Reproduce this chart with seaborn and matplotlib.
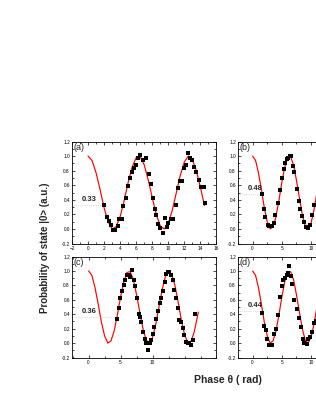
import numpy as np
import pandas as pd
import matplotlib
matplotlib.use("Agg")
import matplotlib.pyplot as plt
from matplotlib.ticker import MultipleLocator, FormatStrFormatter
import seaborn as sns

# basic setting
sns.set_style("ticks")
plt.rcParams['font.family'] = ['Liberation Sans', 'DejaVu Sans']

# ---- data ----
# fitted curves (same shape in every panel)
curve_theta_a = [0.0, 0.5, 1.0, 1.5, 2.0, 2.5, 3.0, 3.5, 4.0, 4.5, 5.0, 5.5, 6.0, 6.5, 7.0,
                 7.5, 8.0, 8.5, 9.0, 9.5, 10.0, 10.5, 11.0, 11.5, 12.0, 12.5, 13.0, 13.5, 14.0, 14.5]
curve_prob_a = [1.00, 0.94, 0.77, 0.54, 0.29, 0.10, 0.00, 0.03, 0.17, 0.39, 0.64, 0.85, 0.98, 0.99, 0.88,
                0.67, 0.43, 0.20, 0.04, 0.00, 0.08, 0.26, 0.50, 0.74, 0.92, 1.00, 0.95, 0.80, 0.57, 0.32]

curve_theta_b = [0.0, 0.5, 1.0, 1.5, 2.0, 2.5, 3.0, 3.5, 4.0, 4.5, 5.0, 5.5, 6.0, 6.5, 7.0,
                 7.5, 8.0, 8.5, 9.0, 9.5, 10.0, 10.5, 11.0, 11.5]
curve_prob_b = [1.00, 0.94, 0.77, 0.54, 0.29, 0.10, 0.00, 0.03, 0.17, 0.39, 0.64, 0.85, 0.98, 0.99, 0.88,
                0.67, 0.43, 0.20, 0.04, 0.00, 0.08, 0.26, 0.50, 0.74]

curve_theta_c = [0.0, 0.5, 1.0, 1.5, 2.0, 2.5, 3.0, 3.5, 4.0, 4.5, 5.0, 5.5, 6.0, 6.5, 7.0,
                 7.5, 8.0, 8.5, 9.0, 9.5, 10.0, 10.5, 11.0, 11.5, 12.0, 12.5, 13.0, 13.5, 14.0, 14.5,
                 15.0, 15.5, 16.0, 16.5, 17.0, 17.15]
curve_prob_c = [1.00, 0.94, 0.77, 0.54, 0.29, 0.10, 0.00, 0.03, 0.17, 0.39, 0.64, 0.85, 0.98, 0.99, 0.88,
                0.67, 0.43, 0.20, 0.04, 0.00, 0.08, 0.26, 0.50, 0.74, 0.92, 1.00, 0.95, 0.80, 0.57, 0.32,
                0.12, 0.01, 0.02, 0.15, 0.36, 0.43]

curve_theta_d = curve_theta_b
curve_prob_d = curve_prob_b

# measured points
theta_a = [2.0, 2.3, 2.6, 2.9, 3.1, 3.4, 3.7, 3.9, 4.2, 4.4, 4.7, 5.0, 5.25, 5.45, 5.7, 5.95,
           6.2, 6.5, 6.8, 7.25, 7.55, 7.85, 8.05, 8.3, 8.5, 8.75, 9.0, 9.3, 9.6, 9.8, 10.0, 10.3,
           10.6, 10.9, 11.2, 11.4, 11.7, 11.9, 12.2, 12.4, 12.7, 13.0, 13.2, 13.5, 13.8, 14.1, 14.4, 14.6]
prob_a = [0.33, 0.16, 0.11, 0.05, -0.01, -0.02, 0.04, 0.14, 0.14, 0.31, 0.43, 0.59, 0.70, 0.78, 0.83, 0.88,
          0.97, 1.01, 0.94, 0.98, 0.75, 0.62, 0.43, 0.28, 0.19, 0.07, 0.01, -0.06, 0.15, 0.02, 0.08, 0.14,
          0.14, 0.33, 0.56, 0.66, 0.66, 0.83, 0.88, 1.04, 0.98, 0.95, 0.85, 0.78, 0.67, 0.57, 0.57, 0.35]

theta_b = [1.6, 1.9, 2.2, 2.55, 2.85, 3.1, 3.4, 3.65, 3.9, 4.35, 4.7, 5.0, 5.3, 5.55, 5.85, 6.1,
           6.35, 6.6, 6.95, 7.15, 7.6, 7.9, 8.15, 8.45, 8.75, 9.15, 9.5, 9.8, 10.1, 10.5]
prob_b = [0.48, 0.28, 0.16, 0.06, 0.04, 0.04, 0.04, 0.08, 0.19, 0.36, 0.53, 0.70, 0.82, 0.90, 0.96, 0.98,
          1.00, 1.00, 0.86, 0.78, 0.55, 0.38, 0.28, 0.18, 0.09, 0.03, 0.01, 0.06, 0.19, 0.33]

theta_c = [4.45, 4.71, 4.98, 5.23, 5.49, 5.75, 6.0, 6.27, 6.53, 6.78, 7.05, 7.3, 7.56, 7.82, 7.98,
           8.24, 8.5, 8.76, 9.02, 9.27, 9.53, 9.8, 10.05, 10.3, 10.58, 10.83, 11.09, 11.35, 11.6, 11.87,
           12.13, 12.38, 12.64, 12.9, 13.16, 13.42, 13.69, 13.94, 14.2, 14.46, 14.71, 14.98, 15.24,
           15.49, 15.75, 16.02, 16.27, 16.69]
prob_c = [0.34, 0.49, 0.62, 0.72, 0.80, 0.88, 0.94, 0.95, 0.91, 1.01, 0.88, 0.79, 0.62, 0.41, 0.36,
          0.29, 0.16, 0.06, 0.00, -0.10, 0.00, 0.04, 0.13, 0.22, 0.34, 0.45, 0.55, 0.62, 0.72, 0.84,
          0.96, 0.98, 0.98, 0.94, 0.88, 0.73, 0.62, 0.48, 0.32, 0.29, 0.21, 0.11, 0.01,
          0.00, 0.00, -0.03, 0.04, 0.41]

theta_d = [1.64, 1.93, 2.22, 2.5, 2.79, 3.07, 3.35, 3.69, 3.98, 4.32, 4.67, 4.96, 5.23, 5.52, 5.81,
           6.09, 6.26, 6.5, 6.72, 7.11, 7.52, 7.91, 8.2, 8.55, 8.82, 9.23, 9.5, 9.79, 10.09, 10.48, 10.77]
prob_d = [0.42, 0.24, 0.18, 0.06, -0.02, -0.03, -0.02, 0.13, 0.20, 0.39, 0.64, 0.79, 0.87, 0.90, 0.95,
          0.97, 1.07, 0.93, 0.82, 0.60, 0.47, 0.35, 0.22, 0.05, 0.00, -0.01, 0.05, 0.09, 0.15, 0.28, 0.31]

panel_labels = ["(a)", "(b)", "(c)", "(d)"]
start_values = ["0.33", "0.48", "0.36", "0.44"]
start_levels = [0.33, 0.48, 0.36, 0.44]
start_theta = [2.0, 1.6, 4.45, 1.64]

panels = [
    (curve_theta_a, curve_prob_a, theta_a, prob_a, (-2, 16), 2, 1),
    (curve_theta_b, curve_prob_b, theta_b, prob_b, (-2.5, 22.5), 5, 2.5),
    (curve_theta_c, curve_prob_c, theta_c, prob_c, (-2.6, 20), 5, 2.5),
    (curve_theta_d, curve_prob_d, theta_d, prob_d, (-2.5, 22.5), 5, 2.5),
]

# axes boxes in figure fraction (left, bottom, width, height)
boxes = [
    [0.2278, 0.4046, 0.4573, 0.2494],
    [0.7532, 0.4046, 0.4623, 0.2494],
    [0.2278, 0.1259, 0.4573, 0.2469],
    [0.7532, 0.1259, 0.4623, 0.2469],
]

fig = plt.figure(figsize=(3.16, 4.09), dpi=100)

for i, (ct, cp, dt, dp, xlim, xmaj, xmin) in enumerate(panels):
    ax = fig.add_axes(boxes[i])
    curve_df = pd.DataFrame({"theta": ct, "prob": cp})
    data_df = pd.DataFrame({"theta": dt, "prob": dp})

    sns.lineplot(x="theta", y="prob", data=curve_df, color="red", lw=0.85,
                 estimator=None, sort=False, ax=ax)
    sns.scatterplot(x="theta", y="prob", data=data_df, color="black", marker="s",
                    s=6, linewidth=0, ax=ax, zorder=3)

    # dotted guide at the starting value
    ax.plot([xlim[0], start_theta[i]], [start_levels[i], start_levels[i]],
            color="#bbbbbb", lw=0.5, ls=":")
    ax.text(xlim[0] + 0.07 * (xlim[1] - xlim[0]), start_levels[i] + 0.03, start_values[i],
            fontsize=5.5, fontweight="bold", ha="left", va="bottom")
    ax.text(0.01, 0.985, panel_labels[i], transform=ax.transAxes, fontsize=6.5,
            ha="left", va="top")

    ax.set_xlim(*xlim)
    ax.set_ylim(-0.2, 1.2)
    ax.xaxis.set_major_locator(MultipleLocator(xmaj))
    ax.xaxis.set_minor_locator(MultipleLocator(xmin))
    ax.yaxis.set_major_locator(MultipleLocator(0.2))
    ax.yaxis.set_minor_locator(MultipleLocator(0.1))
    ax.yaxis.set_major_formatter(FormatStrFormatter("%.1f"))
    if xlim[0] != -2:
        ax.set_xticks([v for v in range(0, 15, 5)])
    ax.tick_params(which="both", direction="in", top=True, right=True, width=0.5,
                   labelsize=3.4, pad=1.5, colors="black")
    ax.tick_params(which="major", length=2)
    ax.tick_params(which="minor", length=1.2)
    for sp in ax.spines.values():
        sp.set_linewidth(0.6)
        sp.set_color("black")
    ax.set_xlabel("")
    ax.set_ylabel("")

fig.text(0.142, 0.395, "Probability of state |0> (a.u.)", rotation=90, fontsize=7,
         fontweight="bold", ha="center", va="center")
fig.text(0.7215, 0.071, "Phase \u03b8 ( rad)", fontsize=7.5, fontweight="bold",
         ha="center", va="center")

fig.savefig("out.png", dpi=100)
